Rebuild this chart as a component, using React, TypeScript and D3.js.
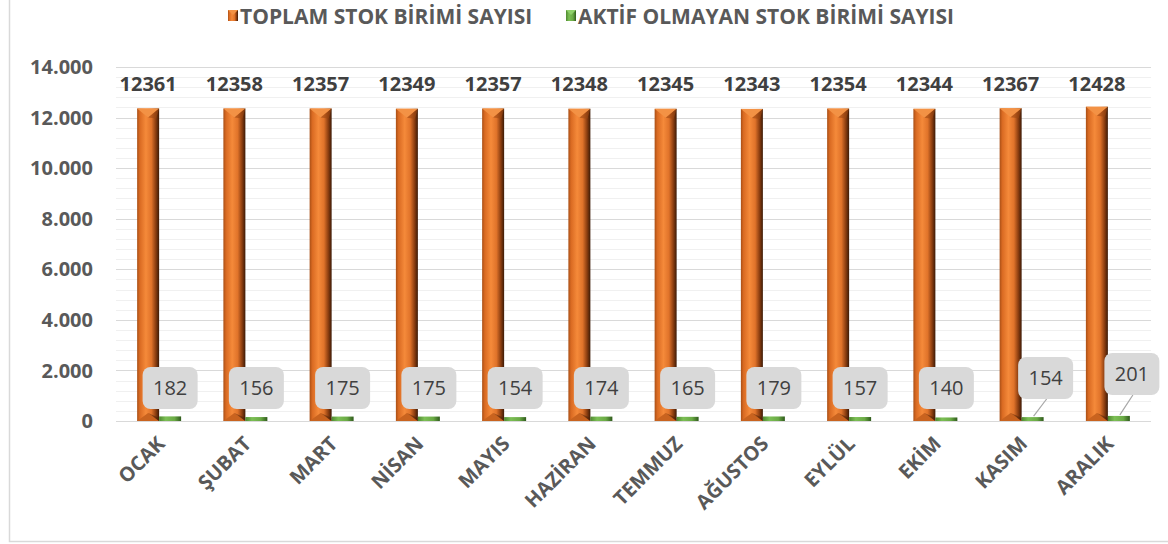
import React, { useEffect, useRef } from 'react';
import * as d3 from 'd3';

const months = ['OCAK', 'ŞUBAT', 'MART', 'NİSAN', 'MAYIS', 'HAZİRAN', 'TEMMUZ', 'AĞUSTOS', 'EYLÜL', 'EKİM', 'KASIM', 'ARALIK'];
const totalUnits = [12361, 12358, 12357, 12349, 12357, 12348, 12345, 12343, 12354, 12344, 12367, 12428];
const inactiveUnits = [182, 156, 175, 175, 154, 174, 165, 179, 157, 140, 154, 201];
const seriesNames = ['TOPLAM STOK BİRİMİ SAYISI', 'AKTİF OLMAYAN STOK BİRİMİ SAYISI'];
const yTicks = [0, 2000, 4000, 6000, 8000, 10000, 12000, 14000];

// callouts that Excel nudged away from the bars
const calloutShift: Record<string, [number, number]> = {
  KASIM: [13, -10],
  ARALIK: [13, -14],
};

const W = 1168;
const H = 544;
const FONT = '"Open Sans", "Liberation Sans", sans-serif';

export default function App() {
  const svgRef = useRef<SVGSVGElement>(null);

  useEffect(() => {
    if (!svgRef.current) return;
    const svg = d3.select(svgRef.current);
    svg.selectAll('*').remove();

    const plot = { left: 116, right: 1151, top: 67, bottom: 421 };

    const defs = svg.append('defs');
    const orange = defs.append('linearGradient').attr('id', 'gOrange');
    [
      ['0%', '#a94f16'], ['12%', '#d96a22'], ['40%', '#f58a3a'],
      ['65%', '#e0732a'], ['85%', '#8a3d10'], ['100%', '#3c1a06'],
    ].forEach(([o, c]) => orange.append('stop').attr('offset', o).attr('stop-color', c));
    const green = defs.append('linearGradient').attr('id', 'gGreen');
    [
      ['0%', '#4f8a30'], ['30%', '#7cbf55'], ['70%', '#6aaa45'], ['100%', '#2f5a1c'],
    ].forEach(([o, c]) => green.append('stop').attr('offset', o).attr('stop-color', c));

    // outer chart border
    svg.append('path')
      .attr('d', `M9.5,0 V541.5 H1168`)
      .attr('fill', 'none')
      .attr('stroke', '#d9d9d9')
      .attr('stroke-width', 1.5);

    const y = d3.scaleLinear().domain([0, 14000]).range([plot.bottom, plot.top]);
    const x = d3.scaleBand<string>().domain(months).range([plot.left, plot.right]).padding(0);
    const groupW = x.bandwidth() * 0.51;
    const inner = d3.scaleBand<number>().domain([0, 1]).range([0, groupW]).padding(0);

    // minor gridlines
    svg.append('g')
      .selectAll('line')
      .data(d3.range(0, 14001, 400).filter(v => v % 2000 !== 0))
      .join('line')
      .attr('x1', plot.left).attr('x2', plot.right)
      .attr('y1', d => Math.round(y(d)) + 0.5).attr('y2', d => Math.round(y(d)) + 0.5)
      .attr('stroke', '#f0f0f0');

    // major gridlines
    svg.append('g')
      .selectAll('line')
      .data(yTicks)
      .join('line')
      .attr('x1', plot.left).attr('x2', plot.right)
      .attr('y1', d => Math.round(y(d)) + 0.5).attr('y2', d => Math.round(y(d)) + 0.5)
      .attr('stroke', '#d9d9d9')
      .attr('stroke-width', 1.2);

    // y labels
    svg.append('g')
      .selectAll('text')
      .data(yTicks)
      .join('text')
      .attr('x', 93)
      .attr('y', d => y(d))
      .attr('dy', '0.36em')
      .attr('text-anchor', 'end')
      .attr('font-family', FONT)
      .attr('font-weight', 700)
      .attr('font-size', 20)
      .attr('fill', '#595959')
      .text(d => (d === 0 ? '0' : d3.format(',')(d).replace(/,/g, '.')));

    const gx = (m: string) => (x(m) as number) + (x.bandwidth() - groupW) / 2;

    // orange bars
    const ob = svg.append('g').selectAll('g').data(months).join('g');
    ob.each(function (m, i) {
      const g = d3.select(this);
      const x0 = gx(m) + (inner(0) as number);
      const w = inner.bandwidth();
      const top = y(totalUnits[i]);
      const bot = y(0);
      const cx = x0 + w / 2;
      g.append('rect').attr('x', x0).attr('y', top).attr('width', w).attr('height', bot - top).attr('fill', 'url(#gOrange)');
      g.append('path').attr('d', `M${x0},${top} L${x0 + w},${top} L${cx},${top + 9} Z`).attr('fill', '#f39245');
      g.append('path').attr('d', `M${x0 + w},${top} L${cx},${top + 9} L${x0 + w - 3},${top + 10} Z`).attr('fill', '#9c4712').attr('opacity', 0.6);
      g.append('path').attr('d', `M${x0},${bot} L${x0 + w},${bot} L${cx},${bot - 8} Z`).attr('fill', '#c9631f');
      g.append('path').attr('d', `M${cx},${bot - 8} L${x0 + w},${bot} L${x0 + w},${bot - 3} Z`).attr('fill', '#4a2008').attr('opacity', 0.5);
      g.append('text')
        .attr('x', cx)
        .attr('y', 91)
        .attr('text-anchor', 'middle')
        .attr('font-family', FONT)
        .attr('font-weight', 700)
        .attr('font-size', 20)
        .attr('fill', '#404040')
        .text(totalUnits[i]);
    });

    // green bars + callouts
    const gb = svg.append('g').selectAll('g').data(months).join('g');
    gb.each(function (m, i) {
      const g = d3.select(this);
      const x0 = gx(m) + (inner(1) as number);
      const w = inner.bandwidth();
      const top = y(inactiveUnits[i]);
      const bot = y(0);
      const cx = x0 + w / 2;
      g.append('rect').attr('x', x0).attr('y', top).attr('width', w).attr('height', bot - top).attr('fill', 'url(#gGreen)');
      const [dx, dy] = calloutShift[m] || [0, 0];
      const bw = 55, bh = 42;
      const bx = cx + dx, by = 388 + dy;
      if (dx || dy) {
        g.append('line')
          .attr('x1', bx + 1).attr('y1', by + bh / 2)
          .attr('x2', cx + 1).attr('y2', top - 1)
          .attr('stroke', '#a6a6a6').attr('stroke-width', 1.2);
      }
      g.append('rect')
        .attr('x', bx - bw / 2).attr('y', by - bh / 2)
        .attr('width', bw).attr('height', bh)
        .attr('rx', 8)
        .attr('fill', '#d9d9d9');
      g.append('text')
        .attr('x', bx)
        .attr('y', by)
        .attr('dy', '0.36em')
        .attr('text-anchor', 'middle')
        .attr('font-family', FONT)
        .attr('font-size', 20)
        .attr('fill', '#404040')
        .text(inactiveUnits[i]);
    });

    // category labels
    svg.append('g')
      .selectAll('text')
      .data(months)
      .join('text')
      .attr('transform', m => `translate(${(x(m) as number) + x.bandwidth() / 2 + 7},${445}) rotate(-45)`)
      .attr('text-anchor', 'end')
      .attr('font-family', FONT)
      .attr('font-weight', 700)
      .attr('font-size', 20)
      .attr('fill', '#595959')
      .text(m => m);

    // legend
    const leg = [
      { x: 228, grad: 'url(#gOrange)', cap: '#f39245' },
      { x: 566, grad: 'url(#gGreen)', cap: '#8fd06a' },
    ];
    leg.forEach((l, i) => {
      svg.append('rect').attr('x', l.x).attr('y', 10).attr('width', 10).attr('height', 11).attr('fill', l.grad);
      svg.append('path').attr('d', `M${l.x},10 L${l.x + 10},10 L${l.x + 5},15 Z`).attr('fill', l.cap);
      svg.append('text')
        .attr('x', l.x + 12)
        .attr('y', 16)
        .attr('dy', '0.36em')
        .attr('font-family', FONT)
        .attr('font-weight', 700)
        .attr('font-size', 21)
        .attr('fill', '#595959')
        .text(seriesNames[i]);
    });
  }, []);

  return (
    <div style={{ position: 'absolute', left: 0, top: 0, width: W, height: H, background: '#fff' }}>
      <svg ref={svgRef} width={W} height={H} />
    </div>
  );
}
